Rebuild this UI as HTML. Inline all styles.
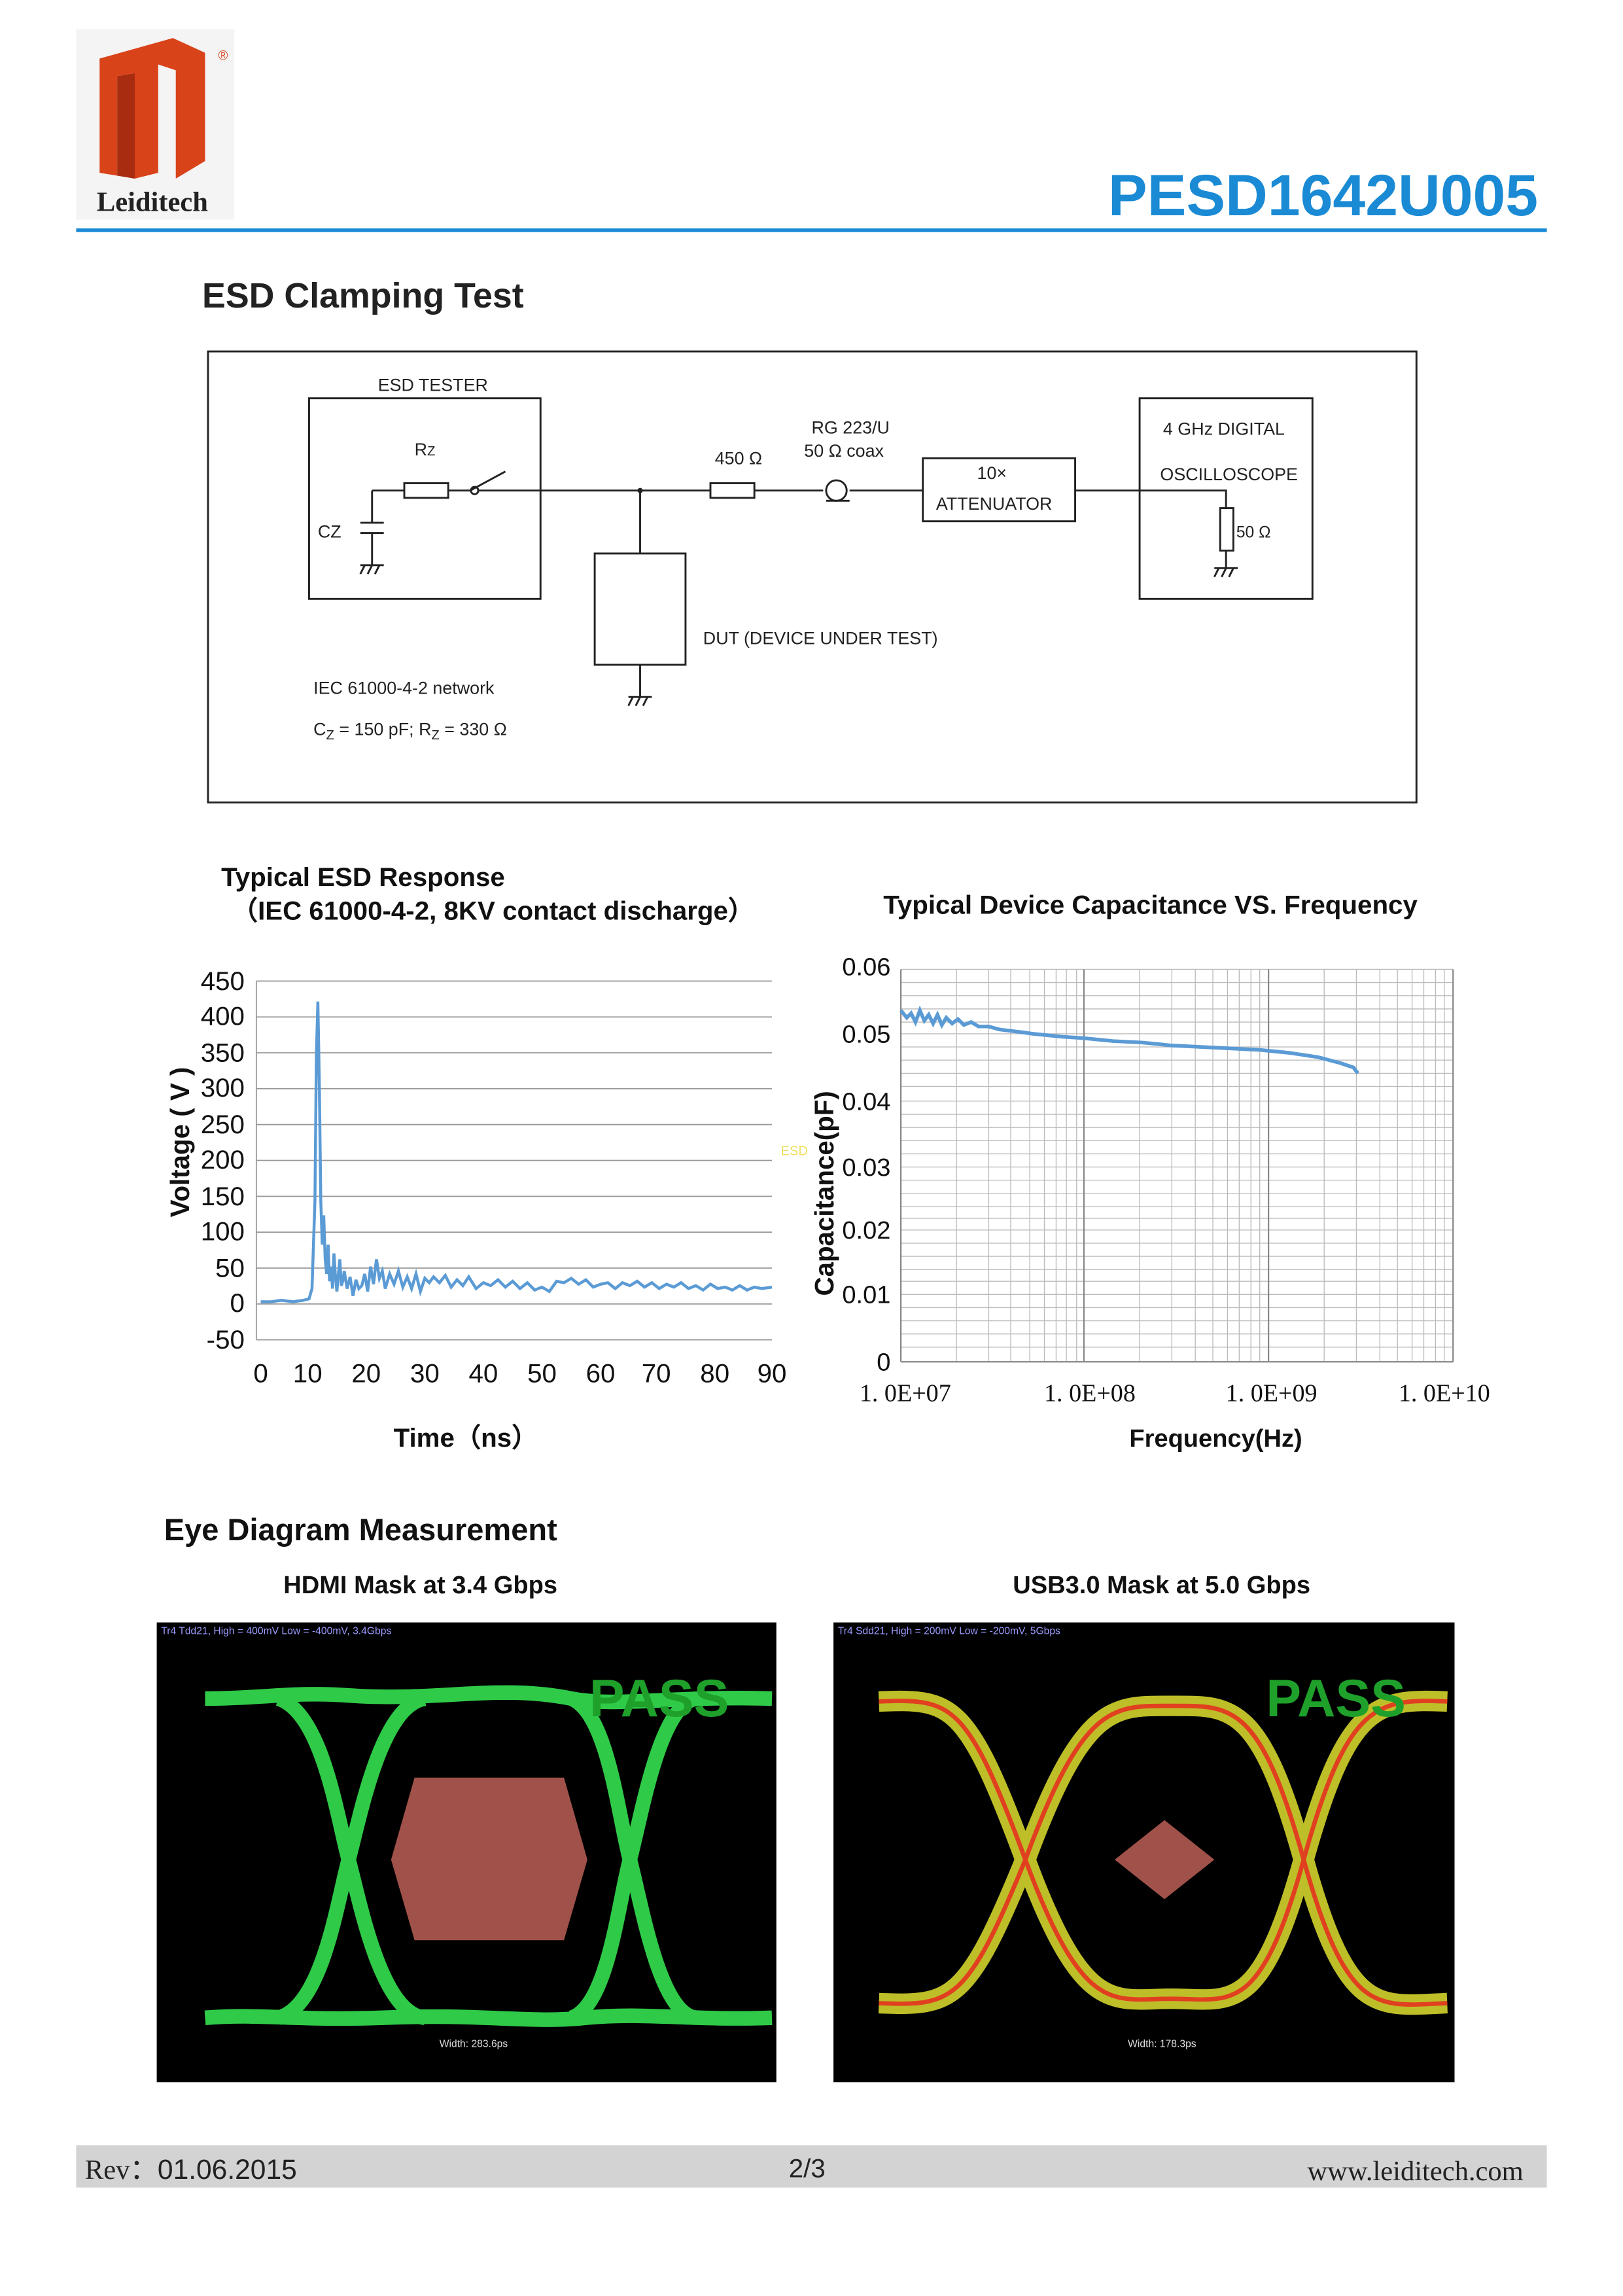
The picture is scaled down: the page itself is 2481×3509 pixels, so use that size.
<!DOCTYPE html>
<html><head><meta charset="utf-8"><style>
html,body{margin:0;padding:0;background:#fff}
svg{display:block}
text{font-family:"Liberation Sans",sans-serif}
</style></head><body>
<svg width="2481" height="3509" viewBox="0 0 1108 1568" preserveAspectRatio="none" xmlns="http://www.w3.org/2000/svg">
<!-- logo -->
<rect x="52" y="20" width="108" height="130" fill="#f4f4f4"/>
<path d="M68 40 L118 26 L140 36 L140 110 L120 122 L120 48 L108 44 L108 118 L92 122 L92 50 L80 52 L80 120 L68 118 Z" fill="#d9431a"/>
<path d="M80 52 L92 50 L92 122 L80 120 Z" fill="#a82c10"/>
<text x="149" y="41" font-size="9" fill="#d9431a">®</text>
<text x="104" y="144" font-size="19" font-weight="bold" text-anchor="middle" fill="#222" style="font-family:'Liberation Serif',serif">Leiditech</text>
<text x="1050" y="147" font-size="40" font-weight="bold" text-anchor="end" fill="#1a8ad4">PESD1642U005</text>
<rect x="52" y="156" width="1004" height="2.5" fill="#1a8ad4"/>
<text x="138" y="210" font-size="24" font-weight="bold" fill="#222">ESD Clamping Test</text>
<!-- circuit -->
<g stroke="#222" fill="none" stroke-width="1.3">
<rect x="142" y="240" width="825" height="308"/>
<rect x="211" y="272" width="158" height="137"/>
<rect x="406" y="378" width="62" height="76"/>
<rect x="630" y="313" width="104" height="43"/>
<rect x="778" y="272" width="118" height="137"/>
<path d="M254 335 L276 335 M306 335 L321 335 L345 322 M327 335 L485 335 M515 335 L562 335 M580 335 L630 335 M734 335 L837 335 L837 347 M837 376 L837 388"/>
<rect x="276" y="330" width="30" height="10"/><circle cx="324" cy="335" r="2.5"/>
<rect x="485" y="330" width="30" height="10"/>
<circle cx="571" cy="335" r="7"/><path d="M564 342 L580 342"/>
<rect x="833" y="347" width="9" height="29"/>
<path d="M254 335 L254 357 M246 357 L262 357 M246 364 L262 364 M254 364 L254 386 M246 386 L262 386 M249 386 L246 392 M254 386 L251 392 M259 386 L256 392"/>
<path d="M437 335 L437 378 M437 454 L437 476 M429 476 L445 476 M432 476 L429 482 M437 476 L434 482 M442 476 L439 482"/>
<path d="M829 388 L845 388 M832 388 L829 394 M837 388 L834 394 M842 388 L839 394"/>
</g>
<circle cx="437" cy="335" r="1.8" fill="#222"/>
<g font-size="12" fill="#222">
<text x="258" y="267">ESD TESTER</text>
<text x="283" y="311">R<tspan font-size="9">Z</tspan></text>
<text x="217" y="367">CZ</text>
<text x="488" y="317">450 Ω</text>
<text x="554" y="296">RG 223/U</text>
<text x="549" y="312">50 Ω coax</text>
<text x="667" y="327">10×</text>
<text x="639" y="348">ATTENUATOR</text>
<text x="794" y="297">4 GHz DIGITAL</text>
<text x="792" y="328">OSCILLOSCOPE</text>
<text x="844" y="367" font-size="11">50 Ω</text>
<text x="480" y="440">DUT (DEVICE UNDER TEST)</text>
<text x="214" y="474">IEC 61000-4-2 network</text>
<text x="214" y="502">C<tspan font-size="9" dy="3">Z</tspan><tspan dy="-3"> = 150 pF; R</tspan><tspan font-size="9" dy="3">Z</tspan><tspan dy="-3"> = 330 Ω</tspan></text>
</g>
<!-- ESD response chart -->
<text x="151" y="605" font-size="18" font-weight="bold" fill="#111">Typical ESD Response</text>
<text x="158" y="628" font-size="18" font-weight="bold" fill="#111">（IEC 61000-4-2, 8KV contact discharge）</text>
<g stroke="#999" stroke-width="0.8">
<line x1="175" y1="670" x2="527" y2="670"/><line x1="175" y1="694.5" x2="527" y2="694.5"/><line x1="175" y1="719" x2="527" y2="719"/><line x1="175" y1="743.5" x2="527" y2="743.5"/><line x1="175" y1="768" x2="527" y2="768"/><line x1="175" y1="792.5" x2="527" y2="792.5"/><line x1="175" y1="817" x2="527" y2="817"/><line x1="175" y1="841.5" x2="527" y2="841.5"/><line x1="175" y1="866" x2="527" y2="866"/><line x1="175" y1="890.5" x2="527" y2="890.5"/><line x1="175" y1="915" x2="527" y2="915"/>
<line x1="175" y1="670" x2="175" y2="915"/>
</g>
<g font-size="18" fill="#111" text-anchor="end">
<text x="167" y="676">450</text><text x="167" y="700">400</text><text x="167" y="725">350</text><text x="167" y="749">300</text><text x="167" y="774">250</text><text x="167" y="798">200</text><text x="167" y="823">150</text><text x="167" y="847">100</text><text x="167" y="872">50</text><text x="167" y="896">0</text><text x="167" y="921">-50</text>
</g>
<g font-size="18" fill="#111" text-anchor="middle">
<text x="178" y="944">0</text><text x="210" y="944">10</text><text x="250" y="944">20</text><text x="290" y="944">30</text><text x="330" y="944">40</text><text x="370" y="944">50</text><text x="410" y="944">60</text><text x="448" y="944">70</text><text x="488" y="944">80</text><text x="527" y="944">90</text>
</g>
<text x="318" y="988" font-size="18" font-weight="bold" text-anchor="middle" fill="#111">Time（ns）</text>
<text transform="translate(129 780) rotate(-90)" font-size="18" font-weight="bold" text-anchor="middle" fill="#111">Voltage ( V )</text>
<polyline fill="none" stroke="#5b9bd5" stroke-width="2" points="178,889 185,889 192,888 200,889 207,888 211,887 213,880 215,820 216,720 217,684 218,740 219,820 220,850 221,830 222,860 223,870 224,850 225,875 226,865 227,880 228,856 229,872 230,882 231,870 232,860 233,878 234,875 235,868 237,880 239,872 241,885 243,874 245,880 247,878 249,870 251,882 253,865 255,877 257,860 259,873 261,868 263,880 266,870 269,877 272,868 275,879 278,872 281,880 284,870 287,882 290,873 293,876 296,872 300,876 304,871 308,879 312,874 316,878 320,872 325,880 330,876 335,878 340,874 345,879 350,875 355,880 360,876 365,881 370,879 375,882 380,875 385,876 390,873 395,877 400,874 405,879 410,877 415,876 420,880 425,876 430,878 435,875 440,879 445,876 450,880 455,877 460,879 465,876 470,880 475,878 480,881 485,877 490,880 495,879 500,881 505,878 510,881 515,879 520,880 527,879"/>
<text x="533" y="789" font-size="9" fill="#f0e060">ESD</text>
<!-- capacitance chart -->
<text x="603" y="624" font-size="18" font-weight="bold" fill="#111">Typical Device Capacitance VS. Frequency</text>
<g stroke="#bbb" stroke-width="0.6">
<line x1="615" y1="662" x2="992" y2="662"/><line x1="615" y1="671" x2="992" y2="671"/><line x1="615" y1="680" x2="992" y2="680"/><line x1="615" y1="689" x2="992" y2="689"/><line x1="615" y1="698" x2="992" y2="698"/><line x1="615" y1="706" x2="992" y2="706"/><line x1="615" y1="715" x2="992" y2="715"/><line x1="615" y1="724" x2="992" y2="724"/><line x1="615" y1="733" x2="992" y2="733"/><line x1="615" y1="742" x2="992" y2="742"/><line x1="615" y1="752" x2="992" y2="752"/><line x1="615" y1="761" x2="992" y2="761"/><line x1="615" y1="770" x2="992" y2="770"/><line x1="615" y1="779" x2="992" y2="779"/><line x1="615" y1="788" x2="992" y2="788"/><line x1="615" y1="797" x2="992" y2="797"/><line x1="615" y1="806" x2="992" y2="806"/><line x1="615" y1="815" x2="992" y2="815"/><line x1="615" y1="824" x2="992" y2="824"/><line x1="615" y1="832" x2="992" y2="832"/><line x1="615" y1="840" x2="992" y2="840"/><line x1="615" y1="849" x2="992" y2="849"/><line x1="615" y1="858" x2="992" y2="858"/><line x1="615" y1="867" x2="992" y2="867"/><line x1="615" y1="875" x2="992" y2="875"/><line x1="615" y1="884" x2="992" y2="884"/><line x1="615" y1="893" x2="992" y2="893"/><line x1="615" y1="902" x2="992" y2="902"/><line x1="615" y1="911" x2="992" y2="911"/><line x1="615" y1="920" x2="992" y2="920"/>
<line x1="653" y1="662" x2="653" y2="930"/><line x1="675" y1="662" x2="675" y2="930"/><line x1="690" y1="662" x2="690" y2="930"/><line x1="703" y1="662" x2="703" y2="930"/><line x1="713" y1="662" x2="713" y2="930"/><line x1="721" y1="662" x2="721" y2="930"/><line x1="728" y1="662" x2="728" y2="930"/><line x1="735" y1="662" x2="735" y2="930"/>
<line x1="778" y1="662" x2="778" y2="930"/><line x1="800" y1="662" x2="800" y2="930"/><line x1="816" y1="662" x2="816" y2="930"/><line x1="828" y1="662" x2="828" y2="930"/><line x1="838" y1="662" x2="838" y2="930"/><line x1="846" y1="662" x2="846" y2="930"/><line x1="854" y1="662" x2="854" y2="930"/><line x1="860" y1="662" x2="860" y2="930"/>
<line x1="904" y1="662" x2="904" y2="930"/><line x1="926" y1="662" x2="926" y2="930"/><line x1="942" y1="662" x2="942" y2="930"/><line x1="954" y1="662" x2="954" y2="930"/><line x1="964" y1="662" x2="964" y2="930"/><line x1="972" y1="662" x2="972" y2="930"/><line x1="980" y1="662" x2="980" y2="930"/><line x1="986" y1="662" x2="986" y2="930"/>
</g>
<g stroke="#888" stroke-width="1"><line x1="615" y1="662" x2="615" y2="930"/><line x1="740" y1="662" x2="740" y2="930"/><line x1="866" y1="662" x2="866" y2="930"/><line x1="992" y1="662" x2="992" y2="930"/><line x1="615" y1="930" x2="992" y2="930"/></g>
<g font-size="17" fill="#111" text-anchor="end">
<text x="608" y="666">0.06</text><text x="608" y="712">0.05</text><text x="608" y="758">0.04</text><text x="608" y="803">0.03</text><text x="608" y="846">0.02</text><text x="608" y="890">0.01</text><text x="608" y="936">0</text>
</g>
<g font-size="17" fill="#111" text-anchor="middle">
<text x="618" y="957" style="font-family:'Liberation Serif',serif">1. 0E+07</text><text x="744" y="957" style="font-family:'Liberation Serif',serif">1. 0E+08</text><text x="868" y="957" style="font-family:'Liberation Serif',serif">1. 0E+09</text><text x="986" y="957" style="font-family:'Liberation Serif',serif">1. 0E+10</text>
</g>
<text x="830" y="988" font-size="17" font-weight="bold" text-anchor="middle" fill="#111">Frequency(Hz)</text>
<text transform="translate(569 815) rotate(-90)" font-size="18" font-weight="bold" text-anchor="middle" fill="#111">Capacitance(pF)</text>
<polyline fill="none" stroke="#5b9bd5" stroke-width="2.5" points="615,690 619,695 622,692 625,698 628,690 631,697 634,693 637,699 640,693 643,700 646,695 650,699 654,696 658,700 663,698 668,701 675,701 682,703 690,704 698,705 705,706 715,707 725,708 740,709 760,711 780,712 800,714 820,715 840,716 860,717 880,719 900,722 915,726 924,729 927,733"/>
<!-- eye diagrams -->
<text x="112" y="1052" font-size="21" font-weight="bold" fill="#111">Eye Diagram Measurement</text>
<text x="287" y="1088" font-size="17" font-weight="bold" text-anchor="middle" fill="#111">HDMI Mask at 3.4 Gbps</text>
<text x="793" y="1088" font-size="17" font-weight="bold" text-anchor="middle" fill="#111">USB3.0 Mask at 5.0 Gbps</text>
<rect x="107" y="1108" width="423" height="314" fill="#000"/>
<rect x="569" y="1108" width="424" height="314" fill="#000"/>
<polygon points="283,1214 385,1214 401,1270 385,1325 283,1325 267,1270" fill="#a0524a"/>
<g fill="none" stroke="#35e050" stroke-width="10" opacity="0.9">
<path d="M140 1160 C180 1160 200 1155 240 1158 C300 1162 340 1150 390 1160 C420 1166 460 1158 527 1160"/>
<path d="M140 1378 C180 1375 200 1380 260 1378 C330 1375 360 1382 400 1378 C440 1374 470 1380 527 1378"/>
<path d="M190 1160 C220 1170 230 1240 238 1270 C246 1300 260 1375 290 1378"/>
<path d="M190 1378 C220 1370 230 1300 238 1270 C246 1240 260 1165 290 1160"/>
<path d="M390 1160 C415 1170 422 1240 430 1270 C438 1300 450 1375 475 1378"/>
<path d="M390 1378 C415 1370 422 1300 430 1270 C438 1240 450 1165 475 1160"/>
</g>
<text x="450" y="1172" font-size="36" font-weight="bold" fill="#1ea02a" text-anchor="middle">PASS</text>
<polygon points="795,1243 829,1270 795,1297 761,1270" fill="#a0524a"/>
<g fill="none" stroke="#e0e030" stroke-width="14" opacity="0.85">
<path d="M600 1162 C650 1160 660 1162 700 1270 C740 1378 760 1365 800 1365 C840 1365 860 1378 890 1270 C920 1162 940 1160 988 1162"/>
<path d="M600 1368 C650 1370 660 1368 700 1270 C740 1162 760 1165 800 1165 C840 1165 860 1162 890 1270 C920 1378 940 1370 988 1368"/>
</g>
<g fill="none" stroke="#e04020" stroke-width="3">
<path d="M600 1162 C650 1160 660 1162 700 1270 C740 1378 760 1365 800 1365 C840 1365 860 1378 890 1270 C920 1162 940 1160 988 1162"/>
<path d="M600 1368 C650 1370 660 1368 700 1270 C740 1162 760 1165 800 1165 C840 1165 860 1162 890 1270 C920 1378 940 1370 988 1368"/>
</g>
<text x="912" y="1172" font-size="36" font-weight="bold" fill="#1ea02a" text-anchor="middle">PASS</text>
<g font-size="7" fill="#9a9aff">
<text x="110" y="1116">Tr4 Tdd21, High = 400mV Low = -400mV, 3.4Gbps</text>
<text x="572" y="1116">Tr4 Sdd21, High = 200mV Low = -200mV, 5Gbps</text>
<text x="300" y="1398" fill="#ddd">Width: 283.6ps</text>
<text x="770" y="1398" fill="#ddd">Width: 178.3ps</text>
</g>
<!-- footer -->
<rect x="52" y="1465" width="1004" height="29" fill="#d3d3d3"/>
<text x="58" y="1488" font-size="19" fill="#222" style="font-family:'Liberation Serif',serif">Rev：<tspan style="font-family:'Liberation Sans',sans-serif">01.06.2015</tspan></text>
<text x="551" y="1487" font-size="18" fill="#222" text-anchor="middle">2/3</text>
<text x="1040" y="1489" font-size="19" fill="#222" text-anchor="end" style="font-family:'Liberation Serif',serif">www.leiditech.com</text>
</svg>
</body></html>
